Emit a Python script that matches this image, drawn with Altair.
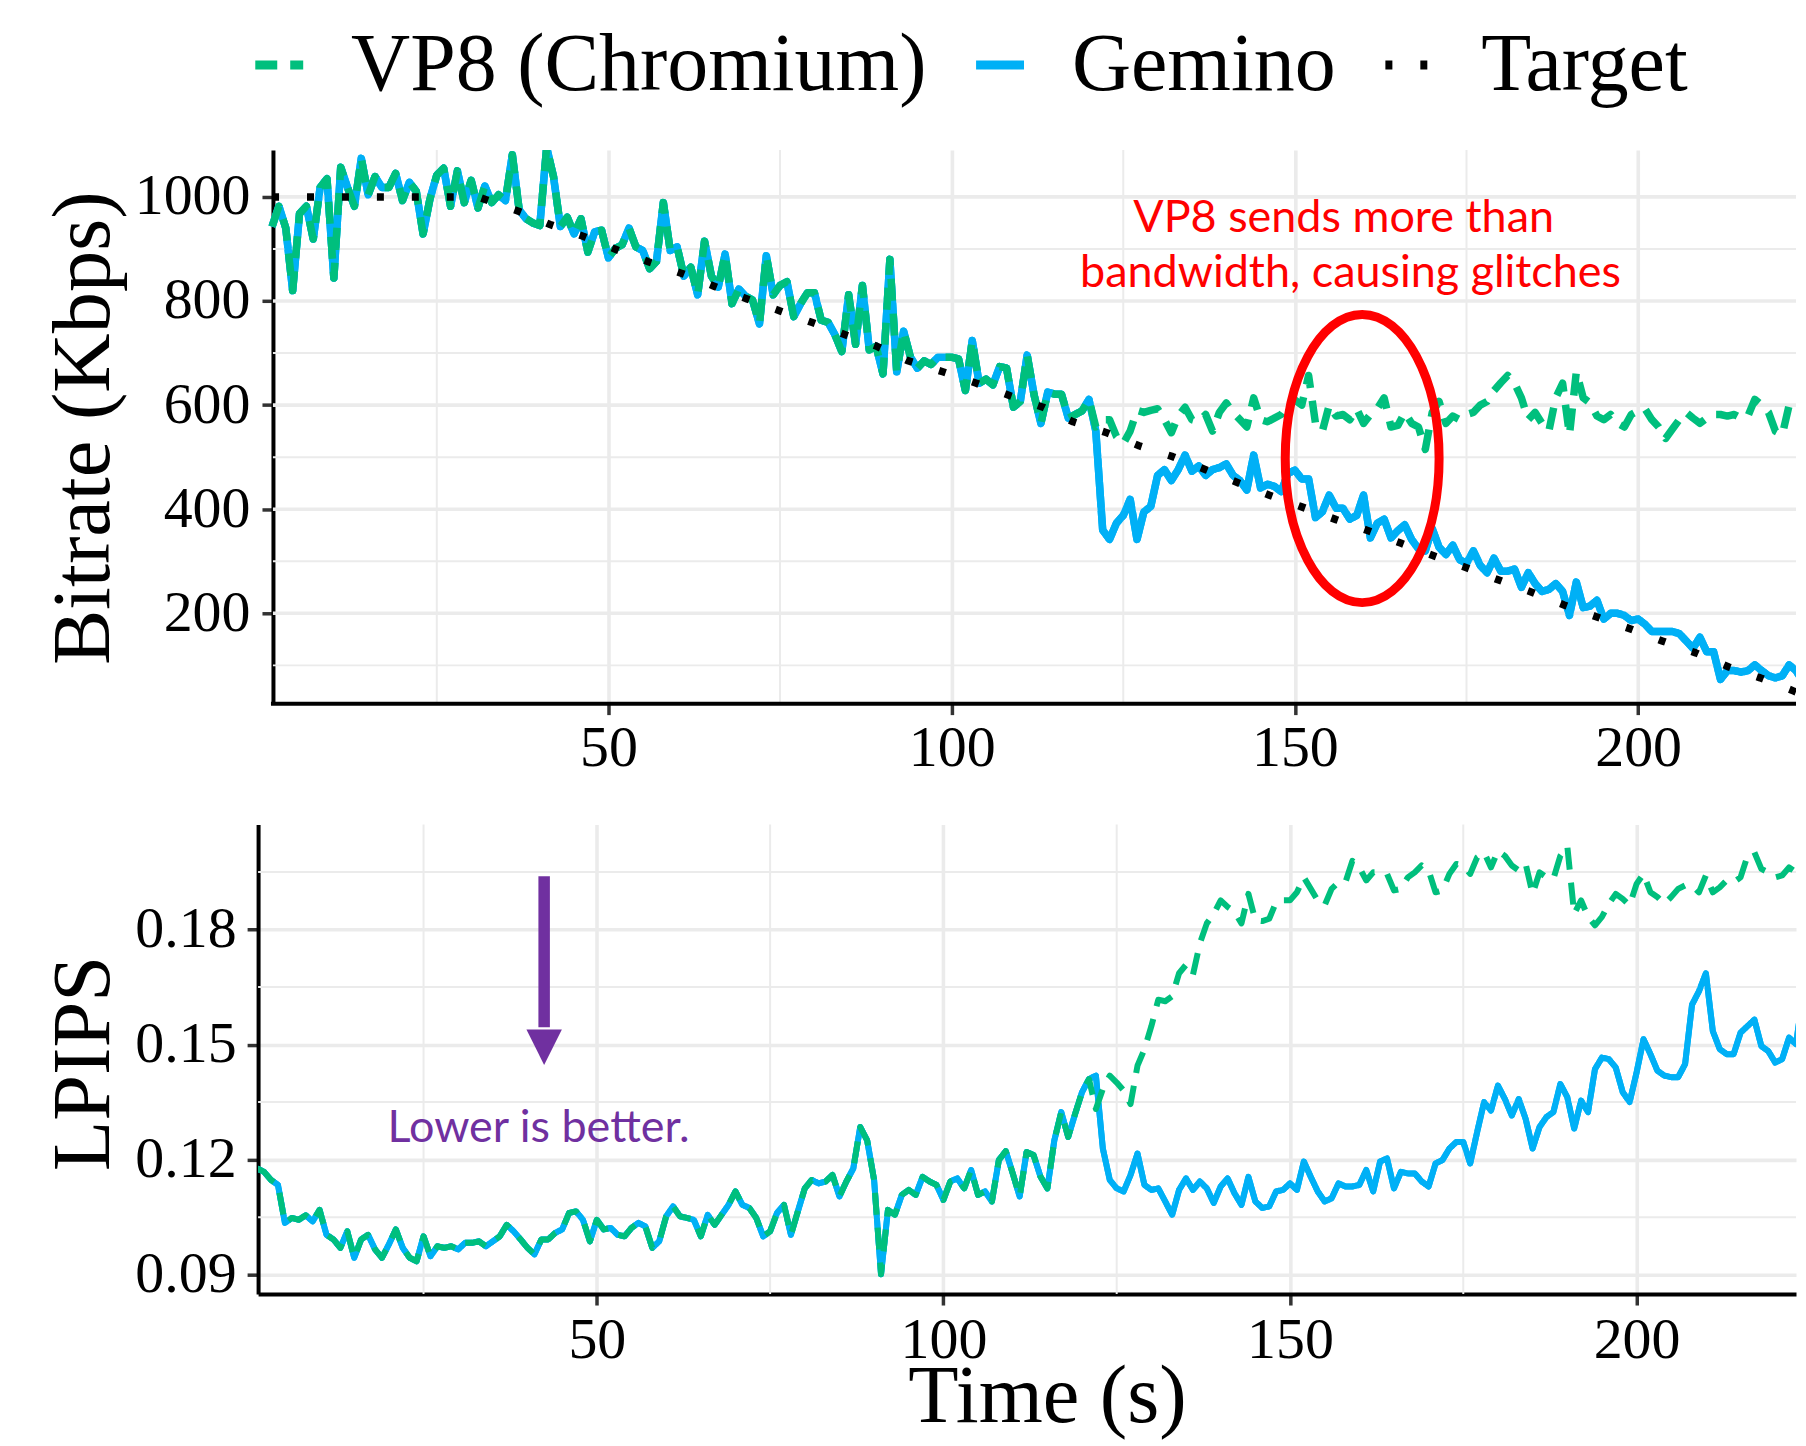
import altair as alt
import pandas as pd

SERIF = "Liberation Serif"
SANS = "Lato"

series_names = ["VP8 (Chromium)", "Gemino", "Target"]
series_colors = ["#00BF7D", "#00B0F6", "#000000"]
series_dashes = [[22, 13], [1, 0], [7, 28]]

# ---------------- Bitrate (Kbps) ----------------
time_shared_bitrate = list(range(1, 121))
bitrate_shared = [
    943, 982, 940, 820, 968, 982, 919, 1018, 1035, 844,
    1057, 1018, 982, 1074, 1004, 1039, 1018, 1018, 1045, 993,
    1028, 1011, 929, 996, 1042, 1055, 982, 1050, 989, 1032,
    979, 1021, 989, 1004, 993, 1081, 975, 958, 950, 945,
    1095, 1039, 943, 961, 929, 958, 894, 933, 936, 883,
    901, 908, 940, 904, 897, 862, 876, 989, 897, 904,
    848, 865, 812, 915, 848, 827, 890, 795, 823, 809,
    802, 756, 887, 812, 830, 837, 770, 795, 816, 816,
    763, 759, 735, 703, 812, 717, 830, 706, 713, 660,
    880, 664, 742, 692, 671, 685, 678, 692, 692, 692,
    689, 628, 724, 642, 650, 639, 674, 671, 596, 607,
    696, 620, 565, 625, 621, 621, 575, 582, 589, 611,
]
time_tail_bitrate = list(range(121, 225))
gemino_bitrate_tail = [
    550, 360, 342, 373, 388, 419, 342, 395, 405, 465,
    476, 455, 476, 504, 473, 483, 465, 476, 480, 487,
    465, 455, 437, 504, 441, 448, 444, 434, 469, 475,
    458, 458, 384, 395, 427, 402, 402, 381, 388, 427,
    345, 373, 381, 345, 359, 370, 342, 324, 320, 363,
    327, 313, 331, 303, 296, 320, 292, 278, 306, 281,
    281, 285, 250, 278, 257, 242, 246, 257, 242, 196,
    260, 211, 214, 225, 189, 200, 200, 196, 186, 189,
    179, 165, 165, 165, 165, 161, 147, 133, 154, 126,
    126, 73, 90, 90, 87, 90, 101, 90, 80, 76,
    80, 101, 90, 69,
]
vp8_bitrate_tail = [
    558, 572, 572, 540, 526, 550, 590, 586, 590, 593,
    572, 547, 579, 596, 572, 568, 582, 550, 586, 604,
    586, 572, 558, 614, 572, 568, 575, 582, 600, 610,
    600, 657, 565, 550, 600, 579, 582, 572, 593, 565,
    582, 593, 614, 558, 561, 586, 565, 558, 515, 586,
    607, 565, 579, 572, 582, 586, 600, 607, 628, 643,
    657, 642, 614, 572, 586, 565, 550, 614, 642, 543,
    664, 614, 604, 579, 572, 582, 565, 558, 582, 589,
    593, 572, 558, 536, 554, 572, 586, 575, 565, 575,
    582, 582, 579, 582, 575, 579, 611, 600, 586, 550,
    543, 600, 607, 600,
]
target_time = [1, 31, 37, 41.5, 46.4, 51.1, 55.7, 60.7, 65.3, 70.2,
               75, 79.6, 84.5, 89.1, 93.5, 98.7, 103.6, 108.5, 113.3, 117.7,
               122.6, 127.3, 132.2, 137, 141.7, 146.3, 150.9, 156, 160.6, 165.4,
               170.3, 174.9, 179.7, 184.6, 189.2, 194, 198.9, 203.5, 208.4, 213.2,
               217.8, 222.6, 224]
target_bitrate = [1000, 1000, 972, 947, 924, 899, 876, 853, 829, 804,
                  781, 759, 735, 713, 686, 664, 642, 618, 596, 568,
                  547, 522, 501, 476, 451, 427, 405, 380, 359, 335,
                  310, 288, 264, 240, 216, 193, 170, 147, 124, 97,
                  76, 51, 44]

# ---------------- LPIPS ----------------
time_shared_lpips = list(range(1, 122))
lpips_shared = [
    0.1177, 0.1168, 0.1147, 0.1134, 0.1035, 0.1048, 0.1043, 0.1055, 0.1039, 0.1069,
    0.1004, 0.0992, 0.0970, 0.1013, 0.0944, 0.0992, 0.1004, 0.0966, 0.0944, 0.0979,
    0.1018, 0.0970, 0.0944, 0.0935, 0.1000, 0.0948, 0.0974, 0.0970, 0.0974, 0.0966,
    0.0983, 0.0983, 0.0987, 0.0974, 0.0987, 0.1000, 0.1030, 0.1013, 0.0992, 0.0970,
    0.0953, 0.0992, 0.0992, 0.1009, 0.1018, 0.1061, 0.1065, 0.1043, 0.0987, 0.1043,
    0.1018, 0.1022, 0.1004, 0.1000, 0.1022, 0.1035, 0.1026, 0.0970, 0.0987, 0.1052,
    0.1078, 0.1052, 0.1048, 0.1043, 0.1000, 0.1056, 0.1030, 0.1056, 0.1082, 0.1117,
    0.1082, 0.1074, 0.1048, 0.1000, 0.1013, 0.1061, 0.1082, 0.1004, 0.1065, 0.1125,
    0.1147, 0.1138, 0.1143, 0.1160, 0.1104, 0.1143, 0.1177, 0.1285, 0.1250, 0.1147,
    0.0901, 0.1069, 0.1056, 0.1108, 0.1121, 0.1108, 0.1155, 0.1143, 0.1134, 0.1095,
    0.1143, 0.1151, 0.1125, 0.1173, 0.1108, 0.1117, 0.1091, 0.1199, 0.1222, 0.1164,
    0.1104, 0.1220, 0.1212, 0.1156, 0.1125, 0.1250, 0.1324, 0.1259, 0.1319, 0.1376,
    0.1410,
]
time_tail_lpips = list(range(122, 225))
gemino_lpips_tail = [
    0.1419, 0.1229, 0.1147, 0.1125, 0.1117, 0.1160, 0.1216, 0.1134, 0.1121, 0.1125,
    0.1091, 0.1056, 0.1121, 0.1151, 0.1121, 0.1143, 0.1125, 0.1087, 0.1130, 0.1151,
    0.1112, 0.1082, 0.1155, 0.1091, 0.1074, 0.1078, 0.1117, 0.1121, 0.1138, 0.1121,
    0.1195, 0.1155, 0.1117, 0.1091, 0.1099, 0.1138, 0.1130, 0.1130, 0.1134, 0.1173,
    0.1117, 0.1195, 0.1203, 0.1125, 0.1168, 0.1164, 0.1164, 0.1143, 0.1130, 0.1190,
    0.1199, 0.1229, 0.1246, 0.1246, 0.1190, 0.1272, 0.1350, 0.1328, 0.1393, 0.1358,
    0.1315, 0.1358, 0.1306, 0.1229, 0.1285, 0.1311, 0.1324, 0.1397, 0.1363, 0.1281,
    0.1354, 0.1324, 0.1436, 0.1466, 0.1462, 0.1440, 0.1376, 0.1350, 0.1427, 0.1514,
    0.1475, 0.1432, 0.1419, 0.1415, 0.1415, 0.1449, 0.1604, 0.1639, 0.1686, 0.1535,
    0.1488, 0.1475, 0.1475, 0.1531, 0.1548, 0.1565, 0.1496, 0.1483, 0.1453, 0.1462,
    0.1518, 0.1501, 0.1630,
]
vp8_lpips_tail = [
    0.1332, 0.1384, 0.1419, 0.1401, 0.1380, 0.1345, 0.1445, 0.1488, 0.1548, 0.1617,
    0.1613, 0.1626, 0.1686, 0.1708, 0.1682, 0.1764, 0.1816, 0.1841, 0.1876, 0.1859,
    0.1846, 0.1816, 0.1893, 0.1824, 0.1822, 0.1828, 0.1872, 0.1876, 0.1876, 0.1897,
    0.1936, 0.1906, 0.1876, 0.1863, 0.1906, 0.1923, 0.1923, 0.1979, 0.1962, 0.1928,
    0.1949, 0.1949, 0.1945, 0.1902, 0.1906, 0.1936, 0.1949, 0.1967, 0.1954, 0.1897,
    0.1902, 0.1945, 0.1971, 0.1967, 0.1945, 0.1988, 0.2001, 0.1962, 0.2005, 0.1992,
    0.1967, 0.1954, 0.1971, 0.1893, 0.1949, 0.1936, 0.1932, 0.1992, 0.2018, 0.1841,
    0.1876, 0.1833, 0.1811, 0.1833, 0.1867, 0.1893, 0.1880, 0.1863, 0.1919, 0.1945,
    0.1897, 0.1885, 0.1867, 0.1885, 0.1906, 0.1915, 0.1915, 0.1897, 0.1941, 0.1897,
    0.1910, 0.1928, 0.1923, 0.1936, 0.1992, 0.2001, 0.1958, 0.1949, 0.1936, 0.1941,
    0.1962, 0.1949, 0.1954,
]

# ---------------- ticks / annotations ----------------
x_ticks = [50, 100, 150, 200]
x_minor = [25, 75, 125, 175]
bitrate_ticks = [200, 400, 600, 800, 1000]
bitrate_minor = [100, 300, 500, 700, 900]
lpips_ticks = [0.09, 0.12, 0.15, 0.18]
lpips_minor = [0.105, 0.135, 0.165, 0.195]
top_grid_span = [1.13, 223]        # time range covered by the top panel grid
top_axis_line_span = [0.84, 223]   # x-axis line of the top panel
top_axis_line_y = [26.5]

red_note_lines = ["VP8 sends more than", "bandwidth, causing glitches"]
red_note_t = [157.1, 158.1]
red_note_y = [959.5, 853.1]
ellipse_t = [159.8]
ellipse_y = [497.3]
purple_note = ["Lower is better."]
purple_t = [41.6]
purple_y = [0.12826]
arrow_t = [42.4]
arrow_top = [0.1939]
arrow_shaft_end = [0.1545]
arrow_head_y = [0.14931]

ELLIPSE_PATH = ("M 0.534 0 C 0.534 0.5523 0.2949 1 0 1 C -0.2949 1 -0.534 0.5523 -0.534 0 "
                "C -0.534 -0.5523 -0.2949 -1 0 -1 C 0.2949 -1 0.534 -0.5523 0.534 0 Z")
TRIANGLE_PATH = "M -1 -1 L 1 -1 L 0 1 Z"

# ---------------- data frames ----------------
top_gemino = pd.DataFrame({"t": time_shared_bitrate + time_tail_bitrate,
                           "value": bitrate_shared + gemino_bitrate_tail,
                           "series": "Gemino"})
top_vp8 = pd.DataFrame({"t": time_shared_bitrate + time_tail_bitrate,
                        "value": bitrate_shared + vp8_bitrate_tail,
                        "series": "VP8 (Chromium)"})
top_target = pd.DataFrame({"t": target_time, "value": target_bitrate, "series": "Target"})
bot_gemino = pd.DataFrame({"t": time_shared_lpips + time_tail_lpips,
                           "value": lpips_shared + gemino_lpips_tail,
                           "series": "Gemino"})
bot_vp8 = pd.DataFrame({"t": time_shared_lpips + time_tail_lpips,
                        "value": lpips_shared + vp8_lpips_tail,
                        "series": "VP8 (Chromium)"})

# ---------------- scales & axes ----------------
TOP_SHIFT = 14.9   # the top panel's y axis sits this many px right of the bottom one
x_top_scale = alt.Scale(domain=[1.13 - TOP_SHIFT / 6.876, 223], nice=False, zero=False)
x_bot_scale = alt.Scale(domain=[1.13, 223], nice=False, zero=False)
y_top_scale = alt.Scale(domain=[26.5, 1090], nice=False, zero=False)
y_bot_scale = alt.Scale(domain=[0.08495, 0.2074], nice=False, zero=False)
color_scale = alt.Scale(domain=series_names, range=series_colors)
dash_scale = alt.Scale(domain=series_names, range=series_dashes)

GRID = "#EBEBEB"
common_axis = dict(labelFont=SERIF, labelFontSize=58, labelColor="black",
                   tickSize=11, tickWidth=3.5, tickColor="#333333",
                   domainColor="black", domainWidth=4,
                   gridColor=GRID, gridWidth=3.6,
                   labelFlush=False, labelOverlap=False,
                   titleFont=SERIF, titleFontSize=82.5, titleFontWeight="normal",
                   titleColor="black")

top_x_axis = alt.Axis(values=x_ticks, labelPadding=5, grid=True, domain=False, **common_axis)
bot_x_axis = alt.Axis(values=x_ticks, labelPadding=6.5, grid=True, titleX=790.3, titleY=128,
                      titleBaseline="alphabetic", titleAlign="center", **common_axis)
top_y_axis = alt.Axis(values=bitrate_ticks, format="d", labelPadding=12, grid=False,
                      offset=-TOP_SHIFT, titleX=-164.9, titleY=278,
                      titleBaseline="alphabetic", **common_axis)
bot_y_axis = alt.Axis(values=lpips_ticks, format=".2f", labelPadding=11, grid=True,
                      titleX=-150, titleY=239, titleBaseline="alphabetic", **common_axis)

legend = alt.Legend(orient="none", legendX=-19.8, legendY=-126.2, direction="horizontal",
                    symbolType="stroke", symbolSize=2304, symbolStrokeWidth=9,
                    labelFont=SERIF, labelFontSize=82, labelColor="black",
                    labelOffset=31, columnPadding=31, labelLimit=3000, padding=0)

PANELS = {
    "top": dict(x_scale=x_top_scale, y_scale=y_top_scale, x_axis=top_x_axis, y_axis=top_y_axis,
                x_title=None, y_title="Bitrate (Kbps)"),
    "bottom": dict(x_scale=x_bot_scale, y_scale=y_bot_scale, x_axis=bot_x_axis,
                   y_axis=bot_y_axis, x_title="Time (s)", y_title="LPIPS"),
}


def xenc(panel, field="t:Q"):
    p = PANELS[panel]
    return alt.X(field, scale=p["x_scale"], axis=p["x_axis"], title=p["x_title"])


def yenc(panel, field="value:Q"):
    p = PANELS[panel]
    return alt.Y(field, scale=p["y_scale"], axis=p["y_axis"], title=p["y_title"])


def series_line(panel, df, width):
    return alt.Chart(df).mark_line(strokeWidth=width, clip=True, strokeCap="butt",
                                   strokeJoin="round").encode(
        x=xenc(panel), y=yenc(panel),
        color=alt.Color("series:N", scale=color_scale, legend=legend, title=None),
        strokeDash=alt.StrokeDash("series:N", scale=dash_scale, legend=legend, title=None),
    )


def minor_x_rules(panel):
    return alt.Chart(pd.DataFrame({"t": x_minor})).mark_rule(color=GRID, strokeWidth=2).encode(
        x=xenc(panel))


def minor_y_rules(panel, vals):
    return alt.Chart(pd.DataFrame({"value": vals})).mark_rule(color=GRID, strokeWidth=2).encode(
        y=yenc(panel))


def top_h_rules(vals, width, color):
    df = pd.DataFrame({"value": vals, "t": top_grid_span[0], "t2": top_grid_span[1]})
    return alt.Chart(df).mark_rule(color=color, strokeWidth=width).encode(
        x=xenc("top"), x2="t2:Q", y=yenc("top"))


# ---------------- top panel ----------------
red_text = alt.Chart(pd.DataFrame({"t": red_note_t, "value": red_note_y, "label": red_note_lines})
                     ).mark_text(font=SANS, fontSize=45, color="#FF0000", align="center",
                                 baseline="middle").encode(
    x=xenc("top"), y=yenc("top"), text="label:N")
ellipse = alt.Chart(pd.DataFrame({"t": ellipse_t, "value": ellipse_y})).mark_point(
    shape=ELLIPSE_PATH, size=83290, filled=False, color="#FF0000", strokeWidth=9, opacity=1
).encode(x=xenc("top"), y=yenc("top"))
top_axis_line = alt.Chart(pd.DataFrame({"t": [top_axis_line_span[0]],
                                        "t2": [top_axis_line_span[1]],
                                        "value": top_axis_line_y})).mark_rule(
    color="black", strokeWidth=4).encode(x=xenc("top"), x2="t2:Q", y=yenc("top"))

top = alt.layer(
    series_line("top", top_gemino, 7.5),
    minor_x_rules("top"),
    top_h_rules(bitrate_minor, 2, GRID),
    top_h_rules(bitrate_ticks, 3.6, GRID),
    series_line("top", top_gemino, 7.5),
    series_line("top", top_vp8, 7.5),
    series_line("top", top_target, 7.5),
    top_axis_line,
    red_text,
    ellipse,
).properties(width=1540.5, height=554.5)

# ---------------- bottom panel ----------------
purple_text = alt.Chart(pd.DataFrame({"t": purple_t, "value": purple_y, "label": purple_note})
                        ).mark_text(font=SANS, fontSize=45, color="#7030A0", align="center",
                                    baseline="middle").encode(
    x=xenc("bottom"), y=yenc("bottom"), text="label:N")
arrow_shaft = alt.Chart(pd.DataFrame({"t": arrow_t, "value": arrow_top, "y2": arrow_shaft_end})
                        ).mark_rule(color="#7030A0", strokeWidth=11.5, strokeCap="butt").encode(
    x=xenc("bottom"), y=yenc("bottom"), y2="y2:Q")
arrow_head = alt.Chart(pd.DataFrame({"t": arrow_t, "value": arrow_head_y})).mark_point(
    shape=TRIANGLE_PATH, size=1260, filled=True, color="#7030A0", opacity=1, strokeWidth=0
).encode(x=xenc("bottom"), y=yenc("bottom"))

bottom = alt.layer(
    series_line("bottom", bot_gemino, 6),
    minor_x_rules("bottom"),
    minor_y_rules("bottom", lpips_minor),
    series_line("bottom", bot_gemino, 6),
    series_line("bottom", bot_vp8, 6),
    arrow_shaft,
    arrow_head,
    purple_text,
).properties(width=1540.5, height=470.4)

chart = alt.vconcat(top, bottom, spacing=45.5).properties(
    padding={"left": 33.5, "top": 14.1, "right": 0, "bottom": 1.5},
    background="white",
).configure_view(stroke=None)

chart.save("out.html", embed_options={"renderer": "svg", "actions": False})
